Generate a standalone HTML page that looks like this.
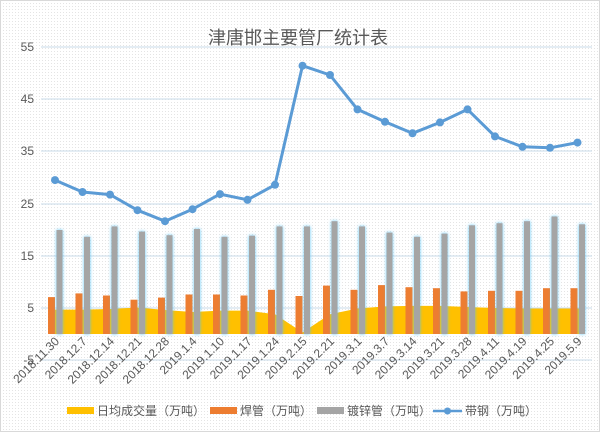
<!DOCTYPE html>
<html><head><meta charset="utf-8"><style>
html,body{margin:0;padding:0;background:#fff}
svg{display:block}
text{font-family:"Liberation Sans","Noto Sans CJK SC",sans-serif;fill:#595959}
</style></head><body>
<svg width="600" height="432" viewBox="0 0 600 432" xmlns="http://www.w3.org/2000/svg">
<defs>
<pattern id="dots" width="3" height="3" patternUnits="userSpaceOnUse">
<rect width="3" height="3" fill="#ffffff"/><rect width="1" height="1" fill="#e4e4e4"/>
</pattern>
<filter id="glow" x="-100%" y="-10%" width="300%" height="120%"><feDropShadow dx="0" dy="0" stdDeviation="1.5" flood-color="#4fc3f7" flood-opacity="0.9"/></filter>
</defs>
<rect width="600" height="432" fill="url(#dots)"/>
<rect x="0.5" y="0.5" width="599" height="431" fill="none" stroke="#d9d9d9"/>
<text x="298" y="44" font-size="18" text-anchor="middle" fill="#595959">津唐邯主要管厂统计表</text>
<g stroke="#c9dbea" stroke-width="1">
<line x1="41" x2="592" y1="47" y2="47"/><line x1="41" x2="592" y1="99" y2="99"/>
<line x1="41" x2="592" y1="151" y2="151"/><line x1="41" x2="592" y1="204" y2="204"/>
<line x1="41" x2="592" y1="256" y2="256"/><line x1="41" x2="592" y1="308" y2="308"/>
<line x1="41" x2="592" y1="360" y2="360"/>
</g>
<g font-size="12" text-anchor="end">
<text x="34" y="51">55</text><text x="34" y="103">45</text><text x="34" y="155">35</text>
<text x="34" y="208">25</text><text x="34" y="260">15</text><text x="34" y="312">5</text>
<text x="34" y="364">-5</text>
</g>
<polygon fill="#ffc000" points="48,334 48,309.6 55,309.6 82.5,309.6 110,309 137.5,307.5 165,310 192.5,312 220,310.6 247.5,310.6 275,314.2 302.5,332.4 330,314.2 357.5,308.5 385,306.4 412.5,305.9 440,305.9 467.5,307 495,308 522.5,308.5 550,308.5 577.5,308.5 583,308.5 583,334"/>
<g fill="#ed7d31">
<rect x="48" y="297.1" width="7" height="36.9"/><rect x="75.5" y="293.4" width="7" height="40.6"/>
<rect x="103" y="295.5" width="7" height="38.5"/><rect x="130.5" y="299.7" width="7" height="34.3"/>
<rect x="158" y="297.6" width="7" height="36.4"/><rect x="185.5" y="294.5" width="7" height="39.5"/>
<rect x="213" y="294.5" width="7" height="39.5"/><rect x="240.5" y="295.5" width="7" height="38.5"/>
<rect x="268" y="289.8" width="7" height="44.2"/><rect x="295.5" y="296" width="7" height="38"/>
<rect x="323" y="285.6" width="7" height="48.4"/><rect x="350.5" y="289.8" width="7" height="44.2"/>
<rect x="378" y="285.1" width="7" height="48.9"/><rect x="405.5" y="287.2" width="7" height="46.8"/>
<rect x="433" y="288.2" width="7" height="45.8"/><rect x="460.5" y="291.4" width="7" height="42.6"/>
<rect x="488" y="290.8" width="7" height="43.2"/><rect x="515.5" y="290.8" width="7" height="43.2"/>
<rect x="543" y="288.2" width="7" height="45.8"/><rect x="570.5" y="288.2" width="7" height="45.8"/>
</g>
<g fill="#a5a5a5" filter="url(#glow)">
<rect x="56.5" y="230" width="6" height="104"/><rect x="84" y="236.8" width="6" height="97.2"/>
<rect x="111.5" y="226.4" width="6" height="107.6"/><rect x="139" y="231.6" width="6" height="102.4"/>
<rect x="166.5" y="235.2" width="6" height="98.8"/><rect x="194" y="229" width="6" height="105"/>
<rect x="221.5" y="236.8" width="6" height="97.2"/><rect x="249" y="235.7" width="6" height="98.3"/>
<rect x="276.5" y="226.4" width="6" height="107.6"/><rect x="304" y="226.4" width="6" height="107.6"/>
<rect x="331.5" y="221.2" width="6" height="112.8"/><rect x="359" y="226.4" width="6" height="107.6"/>
<rect x="386.5" y="232.6" width="6" height="101.4"/><rect x="414" y="236.8" width="6" height="97.2"/>
<rect x="441.5" y="233.6" width="6" height="100.4"/><rect x="469" y="225.3" width="6" height="108.7"/>
<rect x="496.5" y="223.2" width="6" height="110.8"/><rect x="524" y="221.2" width="6" height="112.8"/>
<rect x="551.5" y="216.5" width="6" height="117.5"/><rect x="579" y="224.3" width="6" height="109.7"/>
</g>
<polyline fill="none" stroke="#5b9bd5" stroke-width="3" stroke-linejoin="round" points="55,180.1 82.5,192 110,194.6 137.5,210.2 165,221.2 192.5,209.2 220,194.1 247.5,199.8 275,184.8 302.5,65.7 330,75 357.5,109.4 385,121.8 412.5,133.3 440,122.4 467.5,109.4 495,136.4 522.5,146.8 550,147.8 577.5,142.6"/>
<g fill="#5b9bd5">
<circle cx="55" cy="180.1" r="4"/><circle cx="82.5" cy="192" r="4"/><circle cx="110" cy="194.6" r="4"/>
<circle cx="137.5" cy="210.2" r="4"/><circle cx="165" cy="221.2" r="4"/><circle cx="192.5" cy="209.2" r="4"/>
<circle cx="220" cy="194.1" r="4"/><circle cx="247.5" cy="199.8" r="4"/><circle cx="275" cy="184.8" r="4"/>
<circle cx="302.5" cy="65.7" r="4"/><circle cx="330" cy="75" r="4"/><circle cx="357.5" cy="109.4" r="4"/>
<circle cx="385" cy="121.8" r="4"/><circle cx="412.5" cy="133.3" r="4"/><circle cx="440" cy="122.4" r="4"/>
<circle cx="467.5" cy="109.4" r="4"/><circle cx="495" cy="136.4" r="4"/><circle cx="522.5" cy="146.8" r="4"/>
<circle cx="550" cy="147.8" r="4"/><circle cx="577.5" cy="142.6" r="4"/>
</g>
<g font-size="12" text-anchor="end">
<text transform="translate(60,342) rotate(-45)">2018.11.30</text>
<text transform="translate(87.5,342) rotate(-45)">2018.12.7</text>
<text transform="translate(115,342) rotate(-45)">2018.12.14</text>
<text transform="translate(142.5,342) rotate(-45)">2018.12.21</text>
<text transform="translate(170,342) rotate(-45)">2018.12.28</text>
<text transform="translate(197.5,342) rotate(-45)">2019.1.4</text>
<text transform="translate(225,342) rotate(-45)">2019.1.10</text>
<text transform="translate(252.5,342) rotate(-45)">2019.1.17</text>
<text transform="translate(280,342) rotate(-45)">2019.1.24</text>
<text transform="translate(307.5,342) rotate(-45)">2019.2.15</text>
<text transform="translate(335,342) rotate(-45)">2019.2.21</text>
<text transform="translate(362.5,342) rotate(-45)">2019.3.1</text>
<text transform="translate(390,342) rotate(-45)">2019.3.7</text>
<text transform="translate(417.5,342) rotate(-45)">2019.3.14</text>
<text transform="translate(445,342) rotate(-45)">2019.3.21</text>
<text transform="translate(472.5,342) rotate(-45)">2019.3.28</text>
<text transform="translate(500,342) rotate(-45)">2019.4.11</text>
<text transform="translate(527.5,342) rotate(-45)">2019.4.19</text>
<text transform="translate(555,342) rotate(-45)">2019.4.25</text>
<text transform="translate(582.5,342) rotate(-45)">2019.5.9</text>
</g>
<g font-size="12">
<rect x="67" y="407" width="27" height="7" fill="#ffc000"/>
<text x="97" y="415">日均成交量（万吨）</text>
<rect x="210" y="407" width="27" height="7" fill="#ed7d31"/>
<text x="240" y="415">焊管（万吨）</text>
<rect x="317" y="407" width="27" height="7" fill="#a5a5a5"/>
<text x="347" y="415">镀锌管（万吨）</text>
<line x1="433" x2="462" y1="411" y2="411" stroke="#5b9bd5" stroke-width="2.5"/>
<circle cx="447.5" cy="411" r="3.5" fill="#5b9bd5"/>
<text x="465" y="415">带钢（万吨）</text>
</g>
</svg>
</body></html>
